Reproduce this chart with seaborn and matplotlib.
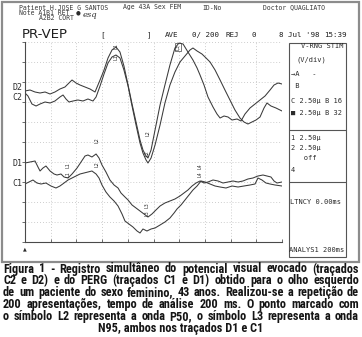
import numpy as np
import pandas as pd
import matplotlib
matplotlib.use("Agg")
import matplotlib.pyplot as plt
from matplotlib import font_manager
from matplotlib.patches import Rectangle
from matplotlib.lines import Line2D
import seaborn as sns

# ---------------- data (time in ms, amplitude in divisions) ----------------
d2_t = [0, 3.9, 7.8, 11.7, 15.6, 19.5, 23.3, 27.2, 31.1, 35.0, 36.6, 39.7, 42.8, 46.7, 50.6,
        54.5, 58.4, 61.5, 64.6, 67.7, 70.8, 73.9, 77.0, 80.2, 83.3, 86.4, 89.5, 91.8, 94.2, 95.7,
        98.1, 101.2, 105.1, 108.9, 112.8, 116.7, 119.8, 123.0, 126.8, 130.7, 133.9, 136.2, 139.3,
        142.4, 146.3, 149.4, 151.8, 154.9, 158.0, 161.1, 165.0, 168.1, 171.2, 175.1, 179.0, 182.9,
        186.8, 190.7, 193.8, 196.9, 200]
d2_v = [7.55, 7.6, 7.5, 7.45, 7.5, 7.4, 7.5, 7.65, 7.75, 8.0, 8.1, 7.95, 7.85, 7.75, 7.65,
        7.5, 8.1, 8.6, 9.2, 9.6, 9.75, 9.5, 8.8, 7.85, 6.9, 6.0, 5.1, 4.6, 4.3, 4.2,
        4.6, 5.6, 6.85, 7.85, 8.85, 9.7, 9.95, 9.9, 9.5, 9.1, 8.7, 8.35, 7.85,
        7.25, 6.75, 6.4, 6.2, 6.3, 6.25, 6.1, 6.15, 6.05, 6.4, 6.7, 6.9, 7.1,
        7.3, 7.6, 7.85, 7.95, 7.9]

c2_t = [0, 2.3, 5.4, 8.6, 11.7, 15.6, 19.5, 23.3, 27.2, 29.6, 31.9, 34.2, 37.4, 41.2, 45.1,
        49.0, 52.9, 55.3, 58.4, 61.5, 64.6, 67.7, 70.8, 73.9, 77.0, 80.2, 83.3, 86.4, 89.5, 91.8,
        94.2, 95.7, 98.1, 101.2, 105.1, 108.9, 112.8, 116.7, 120.6, 124.5, 128.4, 130.7, 133.9,
        137.7, 140.9, 144.0, 147.9, 151.8, 155.6, 159.5, 163.4, 167.3, 170.4, 173.5, 176.6, 179.8,
        182.9, 186.0, 188.3, 191.4, 195.3, 200]
c2_v = [7.45, 7.3, 6.9, 6.8, 6.9, 7.0, 6.95, 7.05, 7.25, 7.35, 7.15, 7.0, 7.05, 7.1, 7.05,
        7.15, 7.05, 7.25, 7.8, 8.4, 8.95, 9.25, 9.35, 9.2, 8.6, 7.8, 6.8, 5.85, 4.95, 4.45,
        4.1, 3.95, 4.2, 4.85, 5.85, 6.95, 7.85, 8.5, 9.0, 9.3, 9.6, 9.7, 9.55,
        9.4, 9.2, 9.0, 8.6, 8.1, 7.6, 7.1, 6.6, 6.2, 6.0, 5.9, 6.0, 6.1,
        6.25, 6.7, 6.95, 6.8, 6.7, 6.55]

d1_t = [0, 3.9, 7.8, 10.1, 11.7, 14.0, 16.3, 19.5, 22.6, 24.9, 28.0, 30.4, 33.5, 36.6, 40.5,
        43.6, 46.7, 49.0, 52.1, 55.3, 57.6, 59.9, 63.0, 66.1, 69.3, 72.4, 74.7, 77.8, 80.2, 83.3,
        86.4, 89.5, 92.6, 95.7, 98.8, 101.9, 105.1, 108.9, 112.8, 116.7, 120.6, 123.7, 126.8,
        130.0, 133.1, 136.2, 139.3, 142.4, 146.3, 150.2, 154.1, 158.0, 161.9, 165.8, 169.6, 173.5,
        177.4, 181.3, 185.2, 188.3, 191.4, 193.8, 196.1, 200]
d1_v = [3.95, 4.0, 4.05, 3.75, 3.55, 3.7, 3.8, 3.55, 3.4, 3.35, 3.4, 3.25, 3.2, 3.4, 3.7,
        4.0, 4.3, 4.35, 4.25, 4.4, 4.2, 3.85, 3.5, 3.1, 2.85, 2.7, 2.45, 2.25, 2.1, 1.85,
        1.7, 1.55, 1.4, 1.25, 1.4, 1.6, 1.8, 1.95, 2.05, 2.15, 2.3, 2.45, 2.6,
        2.8, 2.95, 3.05, 2.95, 3.0, 3.1, 3.05, 2.95, 3.0, 3.05, 3.0, 3.05, 3.15,
        3.2, 3.3, 3.35, 3.3, 3.25, 3.05, 2.95, 3.0]

c1_t = [0, 3.1, 6.2, 9.3, 12.5, 16.3, 20.2, 24.1, 27.2, 30.4, 33.5, 36.6, 39.7, 42.8, 45.9,
        49.0, 52.1, 55.3, 57.6, 59.9, 63.0, 66.1, 69.3, 72.4, 75.5, 77.8, 80.9, 84.0, 87.2, 89.5,
        91.8, 94.9, 98.1, 101.2, 105.1, 108.9, 112.8, 116.0, 118.3, 121.4, 124.5, 127.6, 130.7,
        133.9, 137.0, 140.1, 144.0, 147.9, 151.8, 156.4, 161.1, 165.8, 170.4, 175.1, 179.0, 181.3,
        184.4, 187.5, 190.7, 194.6, 200]
c1_v = [2.9, 3.0, 3.1, 2.95, 2.9, 2.95, 2.8, 2.7, 2.8, 2.95, 3.1, 3.2, 3.3, 3.4, 3.45,
        3.5, 3.55, 3.4, 3.2, 2.85, 2.5, 2.25, 2.05, 1.8, 1.4, 1.05, 0.9, 0.75, 0.55, 0.45,
        0.65, 0.55, 0.65, 0.7, 0.85, 1.0, 1.2, 1.45, 1.65, 1.85, 2.1, 2.35, 2.6,
        2.8, 3.05, 3.0, 2.9, 2.8, 2.75, 2.7, 2.8, 2.75, 2.8, 2.85, 2.9, 3.2,
        3.1, 2.95, 2.9, 2.85, 2.8]

mark_labels = ["L1", "L1", "L2", "L2", "L3", "L1", "L1", "L2", "L2", "L3", "L3", "L4", "L4"]
mark_t = [70.8, 70.8, 95.7, 95.2, 119.0, 33.5, 33.5, 56.0, 56.0, 95.0, 95.0, 136.2, 136.2]
mark_v = [9.8, 9.25, 5.45, 4.45, 9.75, 3.85, 3.4, 5.1, 3.9, 1.85, 1.45, 3.8, 3.4]

trace_labels = ["D2", "C2", "D1", "C1"]
trace_label_v = [7.7, 7.25, 3.95, 2.9]

header1 = ["Patient H.JOSE G SANTOS", "Age 43A Sex FEM", "ID-No", "Doctor QUAGLIATO"]
header_row = ["[", "]", "AVE", "0/ 200", "REJ", "0", "8 Jul '98", "15:39"]
panel_lines = ["V-RNG STIM", "(V/div)", "\u2192A   -", " B", "C 2.50\u00b5 B 16",
               "\u25a0 2.50\u00b5 B 32", "1 2.50\u00b5", "2 2.50\u00b5", "   off", "4",
               "LTNCY 0.00ms", "ANALYS1 200ms"]

caption_lines = [
    "Figura 1 - Registro simult\u00e2neo do potencial visual evocado (tra\u00e7ados",
    "C2 e D2) e do PERG (tra\u00e7ados C1 e D1) obtido para o olho esquerdo",
    "de um paciente do sexo feminino, 43 anos. Realizou-se a repeti\u00e7\u00e3o de",
    "200 apresenta\u00e7\u00f5es, tempo de an\u00e1lise 200 ms. O ponto marcado com",
    "o s\u00edmbolo L2 representa a onda P50, o s\u00edmbolo L3 representa a onda",
    "N95, ambos nos tra\u00e7ados D1 e C1",
]

# ---------------- style ----------------
sns.set_theme(style="white")
plt.rcParams["font.family"] = ["DejaVu Sans"]


def has_font(name):
    try:
        font_manager.findfont(font_manager.FontProperties(family=name),
                              fallback_to_default=False)
        return True
    except Exception:
        return False


NARROW = None
for cand in ["Liberation Sans Narrow", "Roboto Condensed", "Open Sans Condensed",
             "Noto Sans Condensed", "DejaVu Sans Condensed"]:
    if has_font(cand):
        NARROW = cand
        break
MONO = "DejaVu Sans Mono"
INK = "#2b2b2b"

W, H = 362, 337
fig = plt.figure(figsize=(W / 100, H / 100), dpi=100)
fig.patch.set_facecolor("white")


def fx(px):
    return px / W


def fy(py):
    return 1 - py / H


ax = fig.add_axes([fx(25), fy(242), 257 / W, 200 / H])
ax.patch.set_alpha(0)

df = pd.concat([
    pd.DataFrame({"t": t, "v": v, "trace": name})
    for name, t, v in [("D2", d2_t, d2_v), ("C2", c2_t, c2_v),
                       ("D1", d1_t, d1_v), ("C1", c1_t, c1_v)]
], ignore_index=True)

sns.lineplot(data=df, x="t", y="v", units="trace", estimator=None, sort=False,
             color="#3a3a3a", lw=0.75, ax=ax, legend=False)

ax.set_xlim(0, 200)
ax.set_ylim(0, 10)
ax.set_xticks(np.arange(0, 201, 20))
ax.set_yticks(np.arange(0, 11, 1))
ax.set_xticklabels([])
ax.set_yticklabels([])
ax.set_xlabel("")
ax.set_ylabel("")
ax.grid(True, color="#bdbdbd", ls=(0, (1, 2.5)), lw=0.6)
ax.tick_params(axis="y", direction="out", length=2, width=0.6, color="#555", left=True)
ax.tick_params(axis="x", direction="in", length=2, width=0.6, color="#555", bottom=True)
for s in ["top", "right"]:
    ax.spines[s].set_visible(False)
for s in ["left", "bottom"]:
    ax.spines[s].set_color("#4a4a4a")
    ax.spines[s].set_linewidth(0.8)

for lab, t, v in zip(mark_labels, mark_t, mark_v):
    kw = dict(rotation=90, fontsize=3.4, ha="center", va="center", family=MONO, color=INK)
    if lab == "L3" and v > 9:
        kw["bbox"] = dict(boxstyle="square,pad=0.15", fc="none", ec="#444", lw=0.5)
    ax.text(t, v, lab, **kw)

# trace labels at left
for lab, v in zip(trace_labels, trace_label_v):
    ax.text(-13 * 200 / 257, v, lab, fontsize=6, family=MONO, color=INK,
            ha="left", va="center")

# ---------------- figure frame and header ----------------
fig.add_artist(Rectangle((fx(1.5), fy(262)), 357.5 / W, 260.5 / H, transform=fig.transFigure,
                         fill=False, ec="#8c8c8c", lw=1.6))

hx1 = [19, 123, 202, 263]
for s, x in zip(header1, hx1):
    fig.text(fx(x), fy(7.5), s, fontsize=4.7, family=MONO, color="#3a3a3a", va="center")
fig.text(fx(19), fy(12.8), "Note A1B1 RET", fontsize=4.7, family=MONO, color="#3a3a3a", va="center")
fig.text(fx(39), fy(17.5), "A2B2 CORT", fontsize=4.7, family=MONO, color="#3a3a3a", va="center")
fig.text(fx(78), fy(13), "\u25cf", fontsize=4, color=INK, va="center", ha="center")
fig.text(fx(83), fy(15), "esq", fontsize=6, style="italic", family="DejaVu Serif",
         color="#333", va="center")

fig.text(fx(22), fy(35), "PR-VEP", fontsize=9.5, color="#1e1e1e", va="center")
hx2 = [100, 147, 165, 192, 226, 252, 279, 324]
for s, x in zip(header_row, hx2):
    fig.text(fx(x), fy(35), s, fontsize=5.4, family=MONO, color="#1e1e1e", va="center")

# ---------------- right settings panel ----------------
fig.add_artist(Rectangle((fx(289), fy(257)), 57 / W, 214 / H, transform=fig.transFigure,
                         fill=False, ec="#555", lw=0.8))
for yy in [130, 182]:
    fig.add_artist(Line2D([fx(289), fx(346)], [fy(yy), fy(yy)], transform=fig.transFigure,
                          color="#555", lw=0.8))
panel_pos = [(301, 46), (297, 60), (291, 74), (291, 86), (291, 101), (291, 113),
             (291, 138), (291, 148), (291, 158), (291, 170), (290, 202), (289, 250)]
for s, (x, y) in zip(panel_lines, panel_pos):
    fig.text(fx(x), fy(y), s, fontsize=5.0, family=MONO, color=INK, va="center")

fig.text(fx(25), fy(249), "\u25b2", fontsize=3.5, color=INK, ha="center", va="center")

# ---------------- caption (justified) ----------------
cap_kw = dict(fontweight="bold", color="#151515", va="baseline")
if NARROW:
    cap_kw["family"] = [NARROW, "DejaVu Sans"]
else:
    cap_kw["family"] = ["DejaVu Sans"]
    cap_kw["fontstretch"] = "condensed"
base = 8.0
renderer = fig.canvas.get_renderer()
left_px, right_px = 3, 359
target = right_px - left_px


def measure(s, size):
    t = fig.text(0, 0, s, fontsize=size, **cap_kw)
    w = t.get_window_extent(renderer).width
    t.remove()
    return w


ratios = [target / measure(line, base) for line in caption_lines[:-1]]
size = base * min(max(min(ratios), 0.5), 1.1)

for i, line in enumerate(caption_lines):
    y = fy(272.5 + i * 11.9)
    if i == len(caption_lines) - 1:
        fig.text(0.5, y, line, fontsize=size, ha="center", **cap_kw)
        continue
    words = line.split()
    texts = [fig.text(0, y, w, fontsize=size, **cap_kw) for w in words]
    widths = [t.get_window_extent(renderer).width for t in texts]
    gap = (target - sum(widths)) / (len(words) - 1)
    x = left_px
    for t, w in zip(texts, widths):
        t.set_x(fx(x))
        x += w + gap

fig.savefig("out.png", dpi=100, facecolor="white")
